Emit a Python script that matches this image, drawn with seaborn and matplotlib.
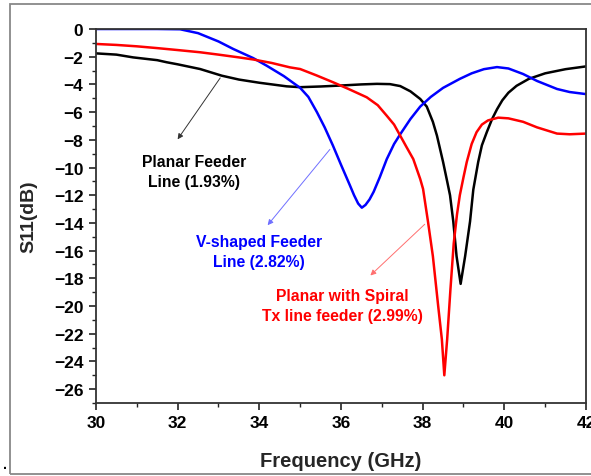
import matplotlib
matplotlib.use("Agg")
import matplotlib.pyplot as plt
from matplotlib.ticker import MultipleLocator
from matplotlib.patches import Rectangle
import seaborn as sns
import pandas as pd

# ---------------- data ----------------
planar_freq = [30.0, 30.5, 30.91, 31.5, 31.73, 32.0, 32.55, 33.08, 33.5, 34.0, 34.67, 35.0,
               35.5, 36.0, 36.5, 36.88, 37.2, 37.45, 37.7, 37.94, 38.1, 38.25, 38.35,
               38.5, 38.6, 38.67, 38.75, 38.83, 38.93, 39.04, 39.16, 39.24, 39.36,
               39.45, 39.57, 39.7, 39.82, 39.95, 40.1, 40.3, 40.6, 41.0, 41.5, 42.0]
planar_s11 = [-1.76, -1.85, -2.05, -2.25, -2.4, -2.55, -2.89, -3.37, -3.65, -3.88, -4.14, -4.2,
              -4.15, -4.08, -4.0, -3.96, -3.98, -4.12, -4.5, -5.05, -5.6, -6.7, -7.7,
              -9.6, -11.0, -12.0, -13.9, -16.4, -18.4, -16.4, -13.9, -11.6, -9.6,
              -8.4, -7.45, -6.5, -5.8, -5.15, -4.6, -4.1, -3.6, -3.2, -2.9, -2.7]

vshape_freq = [30.0, 31.0, 31.5, 32.06, 32.5, 33.0, 33.36, 33.85, 34.18, 34.6, 35.0, 35.2,
               35.41, 35.6, 35.8, 36.0, 36.22, 36.32, 36.42, 36.51, 36.6, 36.7, 36.8,
               36.95, 37.12, 37.3, 37.45, 37.7, 37.94, 38.2, 38.5, 38.91, 39.2, 39.5,
               39.82, 40.1, 40.46, 40.8, 41.29, 41.6, 42.0]
vshape_s11 = [0.0, 0.0, 0.0, -0.02, -0.3, -0.9, -1.44, -2.1, -2.65, -3.4, -4.25, -4.9,
              -6.0, -7.1, -8.4, -9.8, -11.3, -12.0, -12.6, -12.9, -12.7, -12.3, -11.75,
              -10.7, -9.4, -8.3, -7.6, -6.5, -5.6, -4.9, -4.25, -3.6, -3.2, -2.9,
              -2.75, -2.85, -3.25, -3.75, -4.33, -4.55, -4.7]

spiral_freq = [30.0, 30.5, 31.0, 31.5, 32.0, 32.55, 33.0, 33.5, 33.85, 34.3, 34.75, 35.0,
               35.4, 35.81, 36.2, 36.63, 36.9, 37.12, 37.3, 37.45, 37.6, 37.77, 37.94,
               38.01, 38.13, 38.25, 38.38, 38.47, 38.53, 38.6, 38.68, 38.76, 38.84,
               38.91, 39.0, 39.08, 39.2, 39.32, 39.45, 39.6, 39.85, 40.1, 40.46, 40.8,
               41.29, 41.6, 42.0]
spiral_s11 = [-1.08, -1.15, -1.25, -1.38, -1.52, -1.68, -1.85, -2.05, -2.2, -2.45, -2.77, -2.89,
              -3.35, -3.85, -4.35, -4.93, -5.5, -6.26, -6.9, -7.7, -8.5, -9.39, -10.83,
              -11.55, -13.9, -16.4, -20.0, -22.4, -25.0, -22.4, -18.8, -15.5, -13.4,
              -12.0, -10.7, -9.6, -8.3, -7.45, -6.9, -6.6, -6.4, -6.45, -6.7, -7.1,
              -7.55, -7.6, -7.55]

labels = ["Planar Feeder\nLine (1.93%)",
          "V-shaped Feeder\nLine (2.82%)",
          "Planar with Spiral\nTx line feeder (2.99%)"]
x_ticks = [30, 32, 34, 36, 38, 40, 42]
y_ticks = [0, -2, -4, -6, -8, -10, -12, -14, -16, -18, -20, -22, -24, -26]

# ---------------- style ----------------
sns.set_theme(style="ticks")
plt.rcParams['font.family'] = ['Liberation Sans', 'DejaVu Sans']
plt.rcParams['font.weight'] = 'bold'

fig = plt.figure(figsize=(5.91, 4.77), dpi=100)
ax = fig.add_axes([96 / 591, 1 - 404 / 477, (586 - 96) / 591, (404 - 30) / 477])

df_p = pd.DataFrame({"f": planar_freq, "s": planar_s11})
df_v = pd.DataFrame({"f": vshape_freq, "s": vshape_s11})
df_s = pd.DataFrame({"f": spiral_freq, "s": spiral_s11})

sns.lineplot(data=df_p, x="f", y="s", ax=ax, color="black", lw=1.8, sort=False)
sns.lineplot(data=df_v, x="f", y="s", ax=ax, color="#0000ff", lw=1.8, sort=False)
sns.lineplot(data=df_s, x="f", y="s", ax=ax, color="#ff0000", lw=1.8, sort=False)

ax.set_xlim(30, 42)
ax.set_ylim(-27, 0)
ax.set_xticks(x_ticks)
ax.set_yticks(y_ticks)
ax.xaxis.set_minor_locator(MultipleLocator(1))
ax.yaxis.set_minor_locator(MultipleLocator(1))
ax.tick_params(axis='both', which='major', direction='out', length=5, width=1.2,
               labelsize=12.5, pad=4, colors='#222222')
ax.tick_params(axis='both', which='minor', direction='out', length=3, width=1.0,
               colors='#222222')
for lab in ax.get_xticklabels() + ax.get_yticklabels():
    lab.set_fontweight('bold')
    lab.set_color('black')
for sp in ax.spines.values():
    sp.set_visible(True)
    sp.set_color('#333333')
    sp.set_linewidth(1.3)

ax.set_xlabel("Frequency (GHz)", fontsize=14.5, fontweight='bold', labelpad=15)
ax.set_ylabel("S11(dB)", fontsize=14, fontweight='bold', labelpad=12)

# annotations
ax.annotate("", xy=(31.96, -8.13), xytext=(33.08, -3.37),
            arrowprops=dict(arrowstyle="-|>", color="#333333", lw=0.7, mutation_scale=8))
ax.text(32.4, -10.29, labels[0], ha='center', va='center', fontsize=11.3,
        fontweight='bold', color='black', linespacing=1.45)

ax.annotate("", xy=(34.16, -14.32), xytext=(35.77, -8.54),
            arrowprops=dict(arrowstyle="-|>", color="#6f6fff", lw=0.7, mutation_scale=8))
ax.text(33.99, -16.07, labels[1], ha='center', va='center', fontsize=11.3,
        fontweight='bold', color='#0000ff', linespacing=1.45)

ax.annotate("", xy=(36.67, -17.93), xytext=(38.1, -13.96),
            arrowprops=dict(arrowstyle="-|>", color="#ff6f6f", lw=0.7, mutation_scale=8))
ax.text(36.04, -19.98, labels[2], ha='center', va='center', fontsize=11.3,
        fontweight='bold', color='#ff0000', linespacing=1.45)

# outer frame
fig.patches.append(Rectangle((10 / 591, 1 - 475 / 477), 1.0, (475 - 5) / 477,
                             transform=fig.transFigure, fill=False,
                             edgecolor='#888888', lw=1.3))
fig.text(3 / 591, 1 - 472 / 477, ".", fontsize=10, fontweight='bold', color='black',
         ha='left', va='bottom')

fig.savefig("out.png", dpi=100)
